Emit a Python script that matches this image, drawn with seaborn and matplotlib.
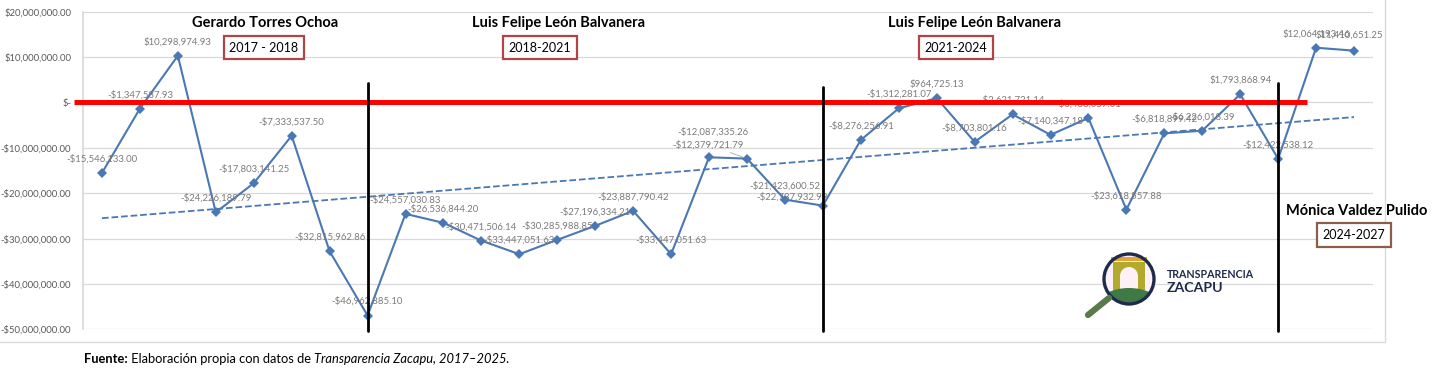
"""
Saldo por periodo - Zacapu 2017-2025
línea con marcadores + tendencia lineal, separadores de administración
"""
import numpy as np
import pandas as pd
import matplotlib
matplotlib.use('Agg')
import matplotlib.pyplot as plt
import matplotlib.patches as mpatches
import seaborn as sns

W, H = 1440, 376

# valores (pesos)
values = [
    -15546133.00, -1347587.93, 10298974.93, -24226189.79, -17803141.25,
    -7333537.50, -32815962.86, -46962885.10, -24557030.83, -26536844.20,
    -30471506.14, -33447051.63, -30285988.85, -27196334.21, -23887790.42,
    -33447051.63, -12087335.26, -12379721.79, -21423600.52, -22737932.99,
    -8276256.91, -1312281.07, 964725.13, -8703801.16, -2621721.14,
    -7140347.18, -3438057.01, -23618557.88, -6818899.42, -6226018.39,
    1793868.94, -12422538.12, 12064193.46, 11410651.25,
]
period_breaks = [7, 19, 31]
y_ticks = [20e6, 10e6, 0, -10e6, -20e6, -30e6, -40e6, -50e6]
admins = ["Gerardo Torres Ochoa", "Luis Felipe León Balvanera",
          "Luis Felipe León Balvanera", "Mónica Valdez Pulido"]
periods = ["2017 - 2018", "2018-2021", "2021-2024", "2024-2027"]

df = pd.DataFrame({"idx": np.arange(len(values)), "saldo": values})

BLUE = "#4a78b5"
GRAY = "#7b7b7b"


def money(v):
    if v == 0:
        return "$-"
    return ("-" if v < 0 else "") + "$" + f"{abs(v):,.2f}"


sns.set_theme(style="white")
plt.rcParams["font.family"] = ["Lato", "DejaVu Sans"]

fig = plt.figure(figsize=(W / 100, H / 100), dpi=100)
ax = fig.add_axes([83 / W, 1 - 329.3 / H, (1373 - 83) / W, (329.3 - 11.7) / H])

sns.regplot(data=df, x="idx", y="saldo", scatter=False, ci=None, ax=ax,
            line_kws=dict(ls="--", lw=1.3, color=BLUE, zorder=2))
sns.lineplot(data=df, x="idx", y="saldo", ax=ax, color=BLUE, lw=1.5,
             marker="D", markersize=5, markeredgewidth=0, zorder=3)

ax.set_xlim(-0.5, len(values) - 0.5)
ax.set_ylim(-50e6, 20e6)
ax.set_yticks(y_ticks)
ax.set_yticklabels([money(t) for t in y_ticks])
ax.set_xticks([])
ax.set_xlabel("")
ax.set_ylabel("")
ax.tick_params(axis="y", length=0, pad=8.5, labelsize=6.8, labelcolor="#595959")
ax.grid(axis="y", color="#d9d9d9", lw=0.9)
for s in ["top", "right", "bottom"]:
    ax.spines[s].set_visible(False)
ax.spines["left"].set_color("#d9d9d9")

# etiquetas de datos (desplazamientos en px)
offsets = {16: (4, 25), 17: (-39, 14), 19: (-31, 9), 33: (-5, 16)}
for i, v in enumerate(values):
    dx, dy = offsets.get(i, (0, 14))
    kw = {}
    if i == 17:
        kw["arrowprops"] = dict(arrowstyle="-", color="#a8a8a8", lw=0.6,
                                shrinkA=0, shrinkB=3)
    ax.annotate(money(v), (i, v), xytext=(dx, dy), textcoords="offset pixels",
                ha="center", va="center", fontsize=6.9, color=GRAY, zorder=4, **kw)

# línea roja en cero y separadores
ax.plot([-0.74, 31.76], [0, 0], color="#ff0000", lw=3.6, zorder=6,
        clip_on=False, solid_capstyle="butt")
tops = [4.3e6, 3.4e6, 4.3e6]
for b, t in zip(period_breaks, tops):
    ax.plot([b, b], [t, -50.3e6], color="black", lw=2, zorder=6, clip_on=False)

# nombres y periodos
title_pos = [(265, 23), (559, 23), (974, 23), (1357, 211)]
box_pos = [(264, 47.5), (540, 47.5), (956, 47.5), (1354, 235)]
box_edge = ["#b04446", "#b04446", "#b04446", "#8a5e48"]
for name, (x, y) in zip(admins, title_pos):
    fig.text(x / W, 1 - y / H, name, ha="center", va="center",
             fontsize=10.5, fontweight="bold", color="black")
for per, (x, y), ec in zip(periods, box_pos, box_edge):
    fig.text(x / W, 1 - y / H, per, ha="center", va="center", fontsize=9,
             color="black",
             bbox=dict(boxstyle="square,pad=0.45", fc="white", ec=ec, lw=1.6))

# borde del área de gráfica
fig.patches.append(mpatches.Rectangle((-0.01, 1 - 342 / H), 1385 / W + 0.01, 342 / H + 0.01,
                                      transform=fig.transFigure, fill=False,
                                      ec="#d9d9d9", lw=1))

# logo Transparencia Zacapu (simplificado)
lg = fig.add_axes([1080 / W, 1 - 322 / H, 80 / W, 72 / H])
lg.set_xlim(1080, 1160)
lg.set_ylim(322, 250)
lg.axis("off")
inner = mpatches.Circle((1129, 279), 24, fc="#fdf1f6", ec="none", zorder=1)
lg.add_patch(inner)
lg.add_patch(mpatches.Rectangle((1113, 262), 32, 28, fc="#b3aa2c", ec="none", zorder=2))
lg.add_patch(mpatches.Rectangle((1111, 257), 36, 4, fc="#e3a23a", ec="none", zorder=2))
lg.add_patch(mpatches.Rectangle((1120, 276), 18, 16, fc="#fdf1f6", ec="none", zorder=3))
lg.add_patch(mpatches.Circle((1129, 276), 9, fc="#fdf1f6", ec="none", zorder=3))
hill = mpatches.Ellipse((1129, 306), 64, 36, fc="#3f7a46", ec="none", zorder=4)
lg.add_patch(hill)
hill.set_clip_path(inner)
lg.add_patch(mpatches.Circle((1129, 279), 25, fill=False, ec="#1f2b4a", lw=2.4, zorder=5))
lg.plot([1088, 1109], [315, 298], color="#5b7a4c", lw=4.5, solid_capstyle="round", zorder=5)
fig.text(1167 / W, 1 - 275 / H, "TRANSPARENCIA", ha="left", va="center",
         fontsize=7.7, fontweight="bold", color="#1f2b4a")
fig.text(1167 / W, 1 - 288 / H, "ZACAPU", ha="left", va="center",
         fontsize=10.2, fontweight="bold", color="#1f2b4a")

# fuente (tres trozos sobre la misma línea base)
fy = 1 - 363 / H
t1 = fig.text(84 / W, fy, "Fuente:", ha="left", va="baseline",
              fontsize=9.3, fontweight="bold", color="black")
t2 = fig.text(0, fy, " Elaboración propia con datos de ", va="baseline",
              fontsize=9.3, color="black")
t3 = fig.text(0, fy, "Transparencia Zacapu, 2017–2025.", va="baseline",
              fontsize=9.3, style="italic", color="black")
fig.canvas.draw()
r = fig.canvas.get_renderer()
t2.set_x(t1.get_window_extent(r).x1 / W)
t3.set_x(t2.get_window_extent(r).x1 / W)

fig.savefig("out.png", dpi=100)
